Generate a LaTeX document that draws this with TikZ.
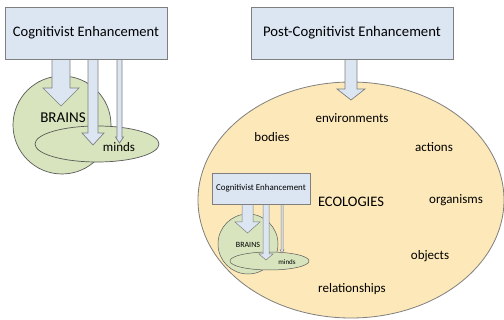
\documentclass[tikz,border=0pt]{standalone}
\usepackage{fontspec}
\setmainfont{Carlito}
\definecolor{boxblue}{HTML}{DCE6F2}
\definecolor{brainsgreen}{HTML}{D7E4BD}
\definecolor{ecoyellow}{HTML}{FCE8B8}
\definecolor{edgegray}{HTML}{7F7F7F}
\tikzset{
  enhbox/.style={draw=edgegray,fill=boxblue,line width=0.8pt,inner sep=0pt},
  arrowbody/.style={draw=edgegray,fill=boxblue,line width=0.7pt,line join=miter},
  blob/.style={draw=black!65,fill=brainsgreen,line width=0.7pt},
  word/.style={inner sep=0pt,font=\fontsize{13}{15}\selectfont}
}
% block arrow: centre x, top y, tip y, shaft half width, head half width, head length
\newcommand{\blockarrow}[7][]{%
  \draw[arrowbody,#1] (#2-#5,#3) -- (#2-#5,#4-#7) -- (#2-#6,#4-#7) -- (#2,#4)
    -- (#2+#6,#4-#7) -- (#2+#5,#4-#7) -- (#2+#5,#3) -- cycle;}
\begin{document}
\begin{tikzpicture}[x=1pt,y=-1pt]
\useasboundingbox (0,0) rectangle (504,320);
% post-cognitivist ecology
\draw[draw=edgegray,fill=ecoyellow,line width=0.8pt] (351,200) ellipse (153 and 118);
\node[word] (env) at (352,118) {environments};
\node[word] (bod) at (272,137) {bodies};
\node[word] (act) at (434,147) {actions};
\node[inner sep=0pt,font=\fontsize{14.5}{16}\selectfont] (eco) at (351,202) {ECOLOGIES};
\node[word] (org) at (456,200) {organisms};
\node[word] (obj) at (430,256) {objects};
\node[word] (rel) at (352,289) {relationships};
\blockarrow{351}{57}{100}{6}{14}{11}
\node[enhbox,minimum width=202pt,minimum height=52pt,font=\fontsize{14.7}{16}\selectfont] (post) at (352,33) {Post-Cognitivist Enhancement};

% cognitivist enhancement, left
\draw[blob] (62,125) circle (49);
\draw[blob] (97,144) ellipse (62 and 18);
\node[inner sep=0pt,font=\fontsize{15}{17}\selectfont] (brains) at (63,118) {BRAINS};
\node[word] (minds) at (119,147) {minds};
\blockarrow{61}{57}{106}{9}{18}{18}
\blockarrow{93}{57}{145}{5}{11}{12}
\blockarrow{119.5}{57}{143}{2.5}{4}{6}
\node[enhbox,minimum width=162pt,minimum height=52pt,font=\fontsize{14.5}{16}\selectfont] (cog) at (86,33) {Cognitivist Enhancement};

% cognitivist enhancement, inside the ecology
\draw[blob,line width=0.5pt] (248,244) circle (30);
\draw[blob,line width=0.5pt] (269.5,261) ellipse (39.5 and 9);
\node[inner sep=0pt,font=\fontsize{8}{9}\selectfont] (brains2) at (248,245) {BRAINS};
\node[inner sep=0pt,font=\fontsize{7}{8}\selectfont] (minds2) at (287,262) {minds};
\blockarrow[line width=0.5pt]{247.5}{203}{233}{5.5}{12.5}{11}
\blockarrow[line width=0.5pt]{266}{203}{260}{3}{7}{6}
\blockarrow[line width=0.5pt]{282}{203}{253}{1}{2}{3}
\node[enhbox,line width=0.5pt,minimum width=98pt,minimum height=31pt,font=\fontsize{8.9}{10}\selectfont] (cog2) at (261,188.5) {Cognitivist Enhancement};
\end{tikzpicture}
\end{document}
